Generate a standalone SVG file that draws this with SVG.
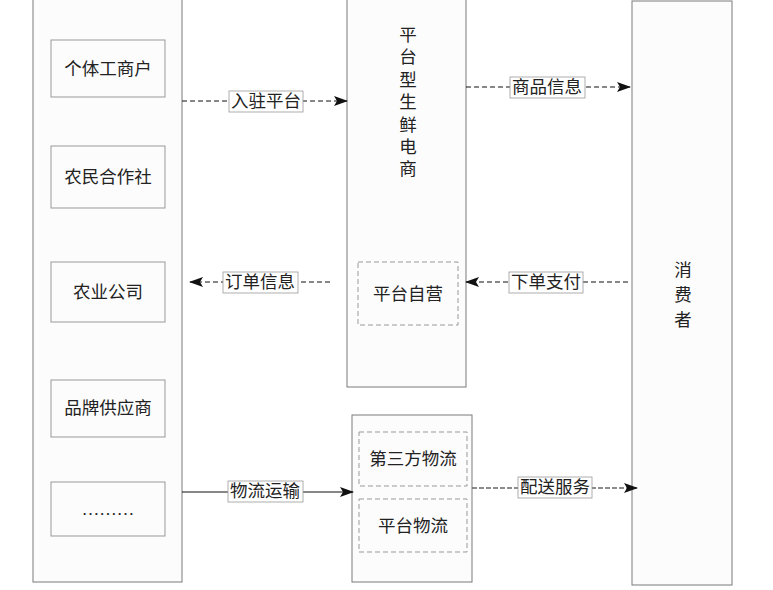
<svg xmlns="http://www.w3.org/2000/svg" width="773" height="590" viewBox="0 0 773 590">
<style>
text{font-family:"Liberation Serif","Noto Sans CJK SC",serif;font-size:17.5px;fill:#222;text-anchor:middle;dominant-baseline:central}
.big{fill:#fcfcfc;stroke:#7a7a7a;stroke-width:1}
.item{fill:#fcfcfc;stroke:#999;stroke-width:1}
.dbox{fill:none;stroke:#999;stroke-width:1;stroke-dasharray:5,3}
.lbl{fill:#fff;stroke:#999;stroke-width:0.8}
.dash{stroke:#111;stroke-width:1;stroke-dasharray:5,3;fill:none}
.gdash{stroke:#666;stroke-width:1.5;stroke-dasharray:5,2;fill:none}
.solid{stroke:#111;stroke-width:1;fill:none}
</style>
<defs>
<marker id="arr" viewBox="0 0 14 10" refX="13" refY="5" markerWidth="14" markerHeight="10" markerUnits="userSpaceOnUse" orient="auto">
<path d="M0,0 L14,5 L0,10 L3,5 Z" fill="#111"/>
</marker>
</defs>
<rect width="773" height="590" fill="#fff"/>

<g id="suppliers">
<rect class="big" x="33" y="-5" width="149" height="587"/>
</g>
<g id="n-getigongshanghu"><rect class="item" x="51" y="40" width="114" height="57"/><text x="108" y="69">个体工商户</text></g>
<g id="n-nongmin"><rect class="item" x="51" y="146" width="114" height="62"/><text x="108" y="177">农民合作社</text></g>
<g id="n-nongye"><rect class="item" x="51" y="262" width="114" height="60"/><text x="108" y="292">农业公司</text></g>
<g id="n-pinpai"><rect class="item" x="51" y="380" width="114" height="57"/><text x="108" y="408">品牌供应商</text></g>
<g id="n-etc"><rect class="item" x="51" y="482" width="114" height="54"/><text x="108" y="509">………</text></g>

<g id="platform">
<rect class="big" x="347" y="-5" width="119" height="392"/>
<text x="408" y="35">平</text><text x="408" y="57">台</text><text x="408" y="80">型</text><text x="408" y="102">生</text><text x="408" y="125">鲜</text><text x="408" y="147">电</text><text x="408" y="169">商</text>
</g>
<g id="n-ziying"><rect class="dbox" x="358" y="262" width="100" height="63"/><text x="408" y="294">平台自营</text></g>

<g id="logistics">
<rect class="big" x="352" y="415" width="120" height="167"/>
</g>
<g id="n-disanfang"><rect class="dbox" x="359" y="432" width="108" height="54"/><text x="413" y="459">第三方物流</text></g>
<g id="n-pingtaiwuliu"><rect class="dbox" x="359" y="499" width="108" height="53"/><text x="413" y="526">平台物流</text></g>

<g id="consumer">
<rect class="big" x="632" y="1" width="100" height="584"/>
<text x="683" y="270">消</text><text x="683" y="295">费</text><text x="683" y="320">者</text>
</g>

<g id="connectors">
<line class="dash" x1="182" y1="101" x2="347" y2="101" marker-end="url(#arr)"/>
<rect class="lbl" x="229" y="91" width="74" height="21"/><text x="266" y="101">入驻平台</text>

<line class="dash" x1="466" y1="87" x2="630" y2="87" marker-end="url(#arr)"/>
<rect class="lbl" x="510" y="77" width="75" height="21"/><text x="547" y="87">商品信息</text>

<line class="dash" x1="330" y1="282" x2="190" y2="282" marker-end="url(#arr)"/>
<rect class="lbl" x="223" y="272" width="75" height="21"/><text x="260" y="282">订单信息</text>

<line class="dash" x1="628" y1="282" x2="466" y2="282" marker-end="url(#arr)"/>
<rect class="lbl" x="509" y="272" width="74" height="21"/><text x="546" y="282">下单支付</text>

<line class="solid" x1="182" y1="492" x2="353" y2="492" marker-end="url(#arr)"/>
<rect class="lbl" x="228" y="481" width="75" height="21"/><text x="265" y="491">物流运输</text>

<line class="gdash" x1="472" y1="488" x2="637" y2="488" marker-end="url(#arr)"/>
<rect class="lbl" x="518" y="477" width="74" height="21"/><text x="555" y="487">配送服务</text>
</g>
</svg>
